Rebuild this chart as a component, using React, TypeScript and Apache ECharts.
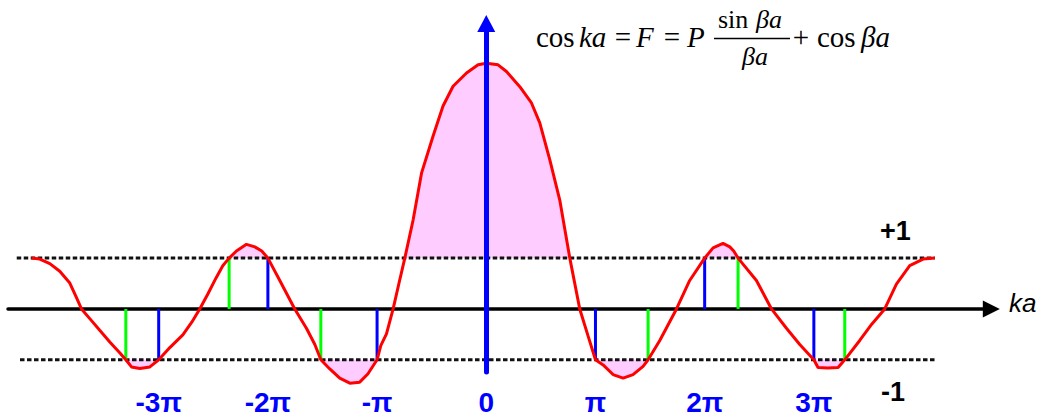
import React, { useEffect, useRef } from 'react';
import * as echarts from 'echarts';

// βa in units of π, and F(βa) = P·sin(βa)/(βa) + cos(βa) along the red curve
const betaA = [
  -4.165, -4.089, -3.997, -3.906, -3.814, -3.759, -3.707, -3.631, -3.54, -3.448,
  -3.357, -3.301, -3.249, -3.173, -3.081, -3, -2.898, -2.779, -2.697, -2.624,
  -2.551, -2.477, -2.413, -2.355, -2.288, -2.196, -2.12, -2.056, -2, -1.891,
  -1.754, -1.647, -1.57, -1.515, -1.433, -1.342, -1.25, -1.159, -1.085, -1,
  -0.966, -0.914, -0.853, -0.801, -0.746, -0.67, -0.593, -0.487, -0.396, -0.304,
  -0.181, -0.075, 0, 0.108, 0.185, 0.307, 0.414, 0.49, 0.582, 0.673,
  0.765, 0.856, 0.932, 1, 1.07, 1.161, 1.253, 1.344, 1.436, 1.482,
  1.589, 1.742, 1.863, 2, 2.077, 2.168, 2.23, 2.266, 2.306, 2.474,
  2.612, 2.749, 2.871, 3, 3.038, 3.127, 3.222, 3.283, 3.42, 3.53,
  3.649, 3.756, 3.878, 4.0, 4.107,
];
const fValues = [
  1.0, 0.98, 0.89, 0.74, 0.51, 0.25, 0, -0.19, -0.42, -0.65,
  -0.86, -1, -1.14, -1.17, -1.14, -1, -0.76, -0.51, -0.26, 0,
  0.29, 0.6, 0.85, 1, 1.14, 1.27, 1.22, 1.14, 1, 0.56,
  0, -0.38, -0.7, -1, -1.18, -1.36, -1.46, -1.44, -1.28, -1,
  -0.72, -0.49, 0, 0.49, 1, 1.75, 2.67, 3.4, 3.99, 4.38,
  4.64, 4.8, 4.83, 4.8, 4.67, 4.37, 4.05, 3.66, 2.93, 2.14,
  1, 0, -0.53, -1, -1.1, -1.29, -1.36, -1.29, -1.13, -1,
  -0.62, 0, 0.56, 1, 1.2, 1.29, 1.22, 1.14, 1, 0.56,
  0, -0.38, -0.7, -1, -1.15, -1.16, -1.15, -1, -0.62, -0.3,
  0, 0.49, 0.85, 0.98, 1.0,
];

// Axis labels at multiples of π
const tickValues = [-3, -2, -1, 0, 1, 2, 3];
const tickLabels = ['-3π', '-2π', '-π', '0', 'π', '2π', '3π'];

// Band edges: blue at nπ, green on the far side of each forbidden gap
const blueEdges = [-3, -2, -1, 1, 2, 3];
const greenEdges = [-3.301, -2.355, -1.515, 1.482, 2.306, 3.283];
const edgeLevels = [-1, 1, -1, -1, 1, -1];

// Dotted limits cos ka = ±1
const limitLevels = [1, -1];
const limitStart = [-4.3, -4.27];
const limitEnd = [4.107, 4.107];

const serif = '"Liberation Serif", "Times New Roman", serif';
const sans = '"Liberation Sans", Arial, sans-serif';

export default function App() {
  const ref = useRef<HTMLDivElement>(null);

  useEffect(() => {
    if (!ref.current) return;
    const chart = echarts.init(ref.current, undefined, { renderer: 'svg' });

    const curve = betaA.map((x, i) => [x, fValues[i]]);
    const upperFill = betaA.map((x, i) => [x, Math.max(fValues[i], 1)]);
    const lowerFill = betaA.map((x, i) => [x, Math.min(fValues[i], -1)]);

    const limitSeries = limitLevels.map((lv, i) => ({
      type: 'line',
      data: [[limitStart[i], lv], [limitEnd[i], lv]],
      symbol: 'none',
      silent: true,
      clip: false,
      z: 3,
      lineStyle: { color: '#111', width: 3, type: [4.5, 2.5] },
    }));

    const edgeSeries = [
      ...blueEdges.map((x, i) => ({ x, lv: edgeLevels[i], color: '#0000ff' })),
      ...greenEdges.map((x, i) => ({ x, lv: edgeLevels[i], color: '#00ff00' })),
    ].map((e) => ({
      type: 'line',
      data: [[e.x, 0], [e.x, e.lv]],
      symbol: 'none',
      silent: true,
      z: 5,
      lineStyle: { color: e.color, width: 3, cap: 'butt' },
    }));

    const txt = (
      text: string,
      x: number,
      y: number,
      size: number,
      opts: Record<string, any> = {}
    ) => ({
      type: 'text',
      x,
      y,
      z: 20,
      style: {
        text,
        fontSize: size,
        fontFamily: serif,
        fill: '#000',
        align: 'left',
        verticalAlign: 'middle',
        ...opts,
      },
    });

    chart.setOption({
      animation: false,
      backgroundColor: '#ffffff',
      grid: {
        left: 8,
        top: 23.5,
        width: 983.3,
        height: 348.5,
        outerBoundsMode: 'none',
      },
      xAxis: {
        type: 'value',
        min: -4.38,
        max: 4.625,
        z: 4,
        axisLine: {
          show: true,
          onZero: true,
          symbol: ['none', 'triangle'],
          symbolSize: [17, 17],
          lineStyle: { color: '#000', width: 3.5 },
        },
        axisTick: { show: false },
        splitLine: { show: false },
        axisLabel: {
          customValues: tickValues,
          formatter: (v: number) => {
            const k = tickValues.indexOf(Math.round(v));
            return k >= 0 ? tickLabels[k] : '';
          },
          margin: 16,
          color: '#0000ff',
          fontSize: 28,
          lineHeight: 28,
          fontWeight: 'bold',
          fontFamily: sans,
        },
      },
      yAxis: {
        type: 'value',
        min: -1.24,
        max: 5.613,
        z: 10,
        axisLine: {
          show: true,
          onZero: true,
          symbol: ['none', 'triangle'],
          symbolSize: [18, 17],
          lineStyle: { color: '#0000ff', width: 5 },
        },
        axisTick: { show: false },
        axisLabel: { show: false },
        splitLine: { show: false },
      },
      series: [
        {
          type: 'line',
          data: upperFill,
          symbol: 'none',
          silent: true,
          clip: false,
          z: 1,
          lineStyle: { width: 0 },
          areaStyle: { color: '#ffccff', opacity: 1, origin: 1 },
        },
        {
          type: 'line',
          data: lowerFill,
          symbol: 'none',
          silent: true,
          clip: false,
          z: 1,
          lineStyle: { width: 0 },
          areaStyle: { color: '#ffccff', opacity: 1, origin: -1 },
        },
        ...limitSeries,
        ...edgeSeries,
        {
          type: 'line',
          data: curve,
          symbol: 'none',
          silent: true,
          clip: false,
          z: 6,
          lineStyle: { color: '#ff0000', width: 3 },
        },
      ],
      graphic: [
        // axis captions
        txt('ka', 1009, 303, 26, { fontFamily: sans, fontStyle: 'italic' }),
        txt('+1', 880, 231, 27, { fontFamily: sans, fontWeight: 'bold' }),
        txt('-1', 881, 392, 27, { fontFamily: sans, fontWeight: 'bold' }),
        // cos ka = F = P sin βa / βa + cos βa
        txt('cos', 536, 36.5, 29),
        txt('ka', 579, 36.5, 29, { fontStyle: 'italic' }),
        txt('=', 623, 36.5, 29, { align: 'center' }),
        txt('F', 636, 36.5, 29, { fontStyle: 'italic' }),
        txt('=', 672, 36.5, 29, { align: 'center' }),
        txt('P', 687, 36.5, 29, { fontStyle: 'italic' }),
        txt('sin', 718, 19.5, 26),
        txt('βa', 756, 19.5, 26, { fontStyle: 'italic' }),
        {
          type: 'line',
          z: 20,
          shape: { x1: 714, y1: 38.5, x2: 790, y2: 38.5 },
          style: { stroke: '#000', lineWidth: 1.5 },
        },
        txt('βa', 742, 56, 26, { fontStyle: 'italic' }),
        txt('+', 801, 37, 29, { align: 'center' }),
        txt('cos', 817, 36.5, 29),
        txt('βa', 861, 36.5, 29, { fontStyle: 'italic' }),
      ],
    });

    return () => chart.dispose();
  }, []);

  return (
    <div
      ref={ref}
      style={{
        position: 'fixed',
        left: 0,
        top: 0,
        width: '1048px',
        height: '418px',
        background: '#fff',
      }}
    />
  );
}
